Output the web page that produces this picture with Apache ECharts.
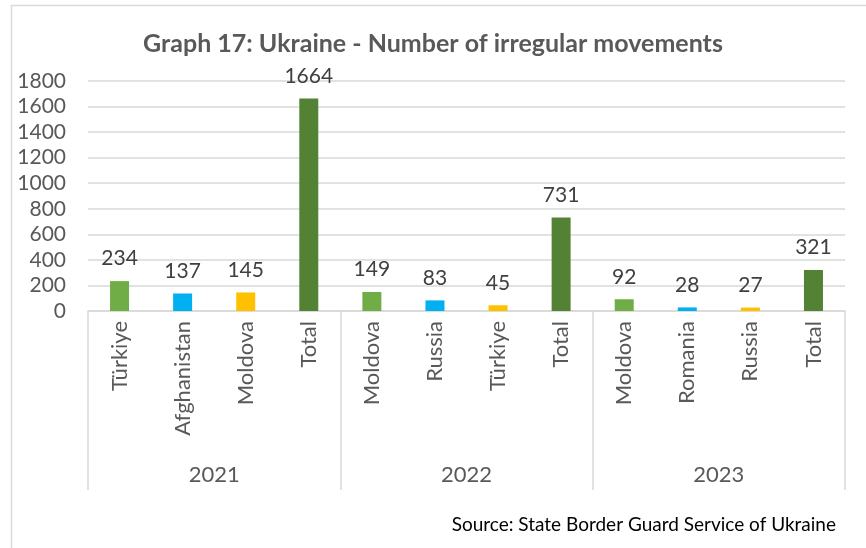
<!DOCTYPE html>
<html style="height: 100%">
<head>
<meta charset="utf-8" />
<title>Graph 17</title>
</head>
<body style="height: 100%; margin: 0; background: #fff">
<div id="container" style="width: 866px; height: 548px"></div>
<script type="text/javascript" src="https://cdn.jsdelivr.net/npm/echarts@6/dist/echarts.min.js"></script>
<script type="text/javascript">
var categories = ['Türkiye', 'Afghanistan', 'Moldova', 'Total',
                  'Moldova', 'Russia', 'Türkiye', 'Total',
                  'Moldova', 'Romania', 'Russia', 'Total'];
var values = [234, 137, 145, 1664, 149, 83, 45, 731, 92, 28, 27, 321];
var colors = ['#70AD47', '#00B0F0', '#FFC000', '#548235',
              '#70AD47', '#00B0F0', '#FFC000', '#548235',
              '#70AD47', '#00B0F0', '#FFC000', '#548235'];
var years = ['2021', '2022', '2023'];
var yTicks = [0, 200, 400, 600, 800, 1000, 1200, 1400, 1600, 1800];

var font = 'Lato, "Open Sans", sans-serif';
var dom = document.getElementById('container');
var myChart = echarts.init(dom);

var barData = [];
for (var i = 0; i < values.length; i++) {
    barData.push({ value: values[i], itemStyle: { color: colors[i] } });
}

var option = {
    animation: false,
    backgroundColor: '#fff',
    textStyle: { fontFamily: font },
    title: {
        text: 'Graph 17: Ukraine - Number of irregular movements',
        left: 'center',
        top: 26,
        textStyle: { fontSize: 25, fontWeight: 'bold', color: '#595959', fontFamily: font }
    },
    graphic: [
        { type: 'rect', left: 9, top: 3, shape: { width: 900, height: 600 },
          style: { fill: 'none', stroke: '#d9d9d9', lineWidth: 1.5 } },
        { type: 'text', right: 30, top: 515,
          style: { text: 'Source: State Border Guard Service of Ukraine',
                   fontSize: 19, fontFamily: font, fill: '#000' } }
    ],
    grid: { left: 88, right: 21, top: 81, bottom: 237, containLabel: false },
    xAxis: [{
        type: 'category',
        data: categories,
        axisLine: { lineStyle: { color: '#d9d9d9', width: 1.5 } },
        axisTick: { show: false },
        axisLabel: { rotate: 90, interval: 0, fontSize: 22, color: '#595959', margin: 10, fontFamily: font }
    }, {
        type: 'category',
        data: years,
        position: 'bottom',
        axisLine: { show: false },
        axisTick: { show: true, length: 179, interval: 0, lineStyle: { color: '#d9d9d9', width: 1.5 } },
        axisLabel: { fontSize: 22, color: '#595959', margin: 153, fontFamily: font }
    }],
    yAxis: {
        type: 'value',
        min: 0,
        max: 1800,
        interval: 200,
        axisLine: { show: false },
        axisTick: { show: false },
        splitLine: { lineStyle: { color: '#d9d9d9', width: 1.5 } },
        axisLabel: { fontSize: 21, color: '#595959', margin: 22, fontFamily: font,
            formatter: function (v) { return yTicks.indexOf(v) >= 0 ? String(v) : ''; } }
    },
    series: [{
        type: 'bar',
        data: barData,
        barWidth: 19,
        label: { show: true, position: 'top', distance: 12, fontSize: 21, color: '#404040', fontFamily: font }
    }]
};

myChart.setOption(option);
</script>
</body>
</html>
